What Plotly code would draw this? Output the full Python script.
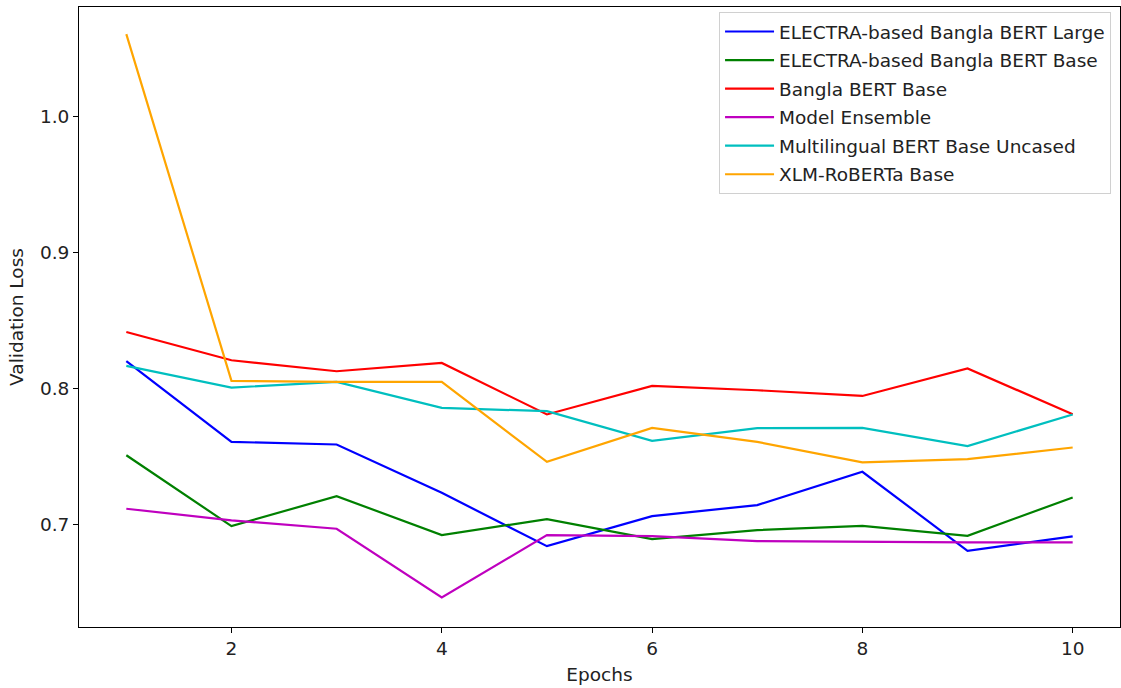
import plotly.graph_objects as go

epochs = [1, 2, 3, 4, 5, 6, 7, 8, 9, 10]

electra_large = [0.820, 0.7605, 0.7586, 0.723, 0.6838, 0.7059, 0.714, 0.7385, 0.6804, 0.691]
electra_base = [0.7507, 0.6985, 0.7206, 0.6919, 0.7037, 0.689, 0.6956, 0.6987, 0.6914, 0.7196]
bangla_bert_base = [0.8414, 0.8206, 0.8125, 0.8186, 0.7807, 0.8017, 0.7985, 0.7943, 0.8145, 0.7809]
model_ensemble = [0.7113, 0.7027, 0.6966, 0.6461, 0.6919, 0.6912, 0.6875, 0.6868, 0.6866, 0.6866]
mbert_uncased = [0.8164, 0.8005, 0.8046, 0.7855, 0.7831, 0.7613, 0.7706, 0.7708, 0.7574, 0.7807]
xlm_roberta = [1.0605, 0.8054, 0.8046, 0.8046, 0.7458, 0.7708, 0.7605, 0.7454, 0.7478, 0.7564]

names = [
    "ELECTRA-based Bangla BERT Large",
    "ELECTRA-based Bangla BERT Base",
    "Bangla BERT Base",
    "Model Ensemble",
    "Multilingual BERT Base Uncased",
    "XLM-RoBERTa Base",
]
series = [electra_large, electra_base, bangla_bert_base, model_ensemble, mbert_uncased, xlm_roberta]
colors = ["#0000ff", "#008000", "#ff0000", "#bf00bf", "#00bfbf", "#ffa500"]

x_ticks = [2, 4, 6, 8, 10]
y_ticks = [0.7, 0.8, 0.9, 1.0]
y_tick_labels = ["0.7", "0.8", "0.9", "1.0"]

fig = go.Figure()
for i, (n, s, c) in enumerate(zip(names, series, colors)):
    fig.add_trace(go.Scatter(x=epochs, y=s, mode="lines", name=n,
                             line=dict(color=c, width=2.2), legendgroup=f"g{i}"))

font = "DejaVu Sans, Arial, sans-serif"
fs = 18.5
fig.update_layout(
    width=1121, height=688,
    margin=dict(l=79, r=1, t=7, b=61),
    paper_bgcolor="white", plot_bgcolor="white",
    font=dict(family=font, size=fs, color="#222222"),
    showlegend=True,
    legend=dict(x=0.9914, y=0.992, xanchor="right", yanchor="top",
                bgcolor="white", bordercolor="#d0d0d0", borderwidth=1,
                font=dict(family=font, size=fs, color="#222222"),
                tracegroupgap=1.5, itemwidth=49),
    xaxis=dict(range=[0.55, 10.45], tickvals=x_ticks, ticks="outside", ticklen=5,
               tickcolor="black", showgrid=False, zeroline=False, automargin=False,
               showline=True, linecolor="black", linewidth=1, mirror=True,
               title=dict(text="Epochs", font=dict(size=fs), standoff=9)),
    yaxis=dict(range=[0.6243, 1.0805], tickvals=y_ticks, ticktext=y_tick_labels,
               ticks="outside", ticklen=5, tickcolor="black", showgrid=False,
               zeroline=False, showline=True, linecolor="black", linewidth=1, mirror=True,
               automargin=False,
               title=dict(text="Validation Loss", font=dict(size=fs), standoff=11)),
)

fig.write_html("out.html", config={"displayModeBar": False},
               post_script="document.body.style.margin='0';document.body.style.padding='0';")
